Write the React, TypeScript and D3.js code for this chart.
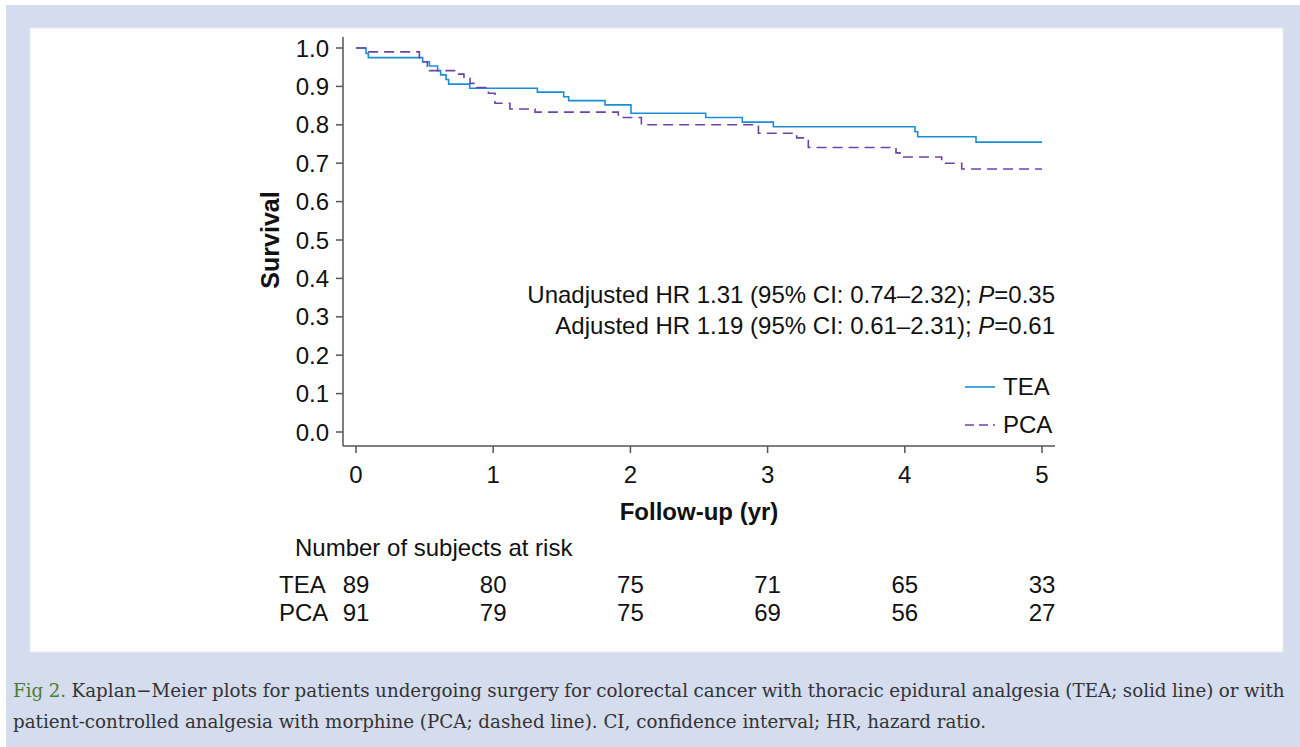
import React, { useLayoutEffect, useRef, useState } from "react";
import * as d3 from "d3";

// Kaplan-Meier step points: [years, survival]
const teaTimes = [0, 0.073, 0.09, 0.486, 0.535, 0.595, 0.617, 0.656, 0.675, 0.829, 1.322, 1.514, 1.55, 1.815, 2.004, 2.549, 2.816, 3.042, 4.074, 4.094, 4.519, 5.0];
const teaSurv = [1.0, 0.986, 0.975, 0.964, 0.953, 0.941, 0.93, 0.918, 0.906, 0.895, 0.885, 0.873, 0.863, 0.852, 0.83, 0.819, 0.807, 0.795, 0.782, 0.769, 0.755, 0.755];

const pcaTimes = [0, 0.073, 0.462, 0.486, 0.52, 0.535, 0.734, 0.787, 0.831, 0.88, 0.965, 1.013, 1.122, 1.305, 1.912, 2.08, 2.933, 3.212, 3.297, 3.936, 3.965, 4.269, 4.415, 5.0];
const pcaSurv = [1.0, 0.99, 0.975, 0.964, 0.953, 0.941, 0.932, 0.921, 0.908, 0.897, 0.882, 0.856, 0.841, 0.833, 0.819, 0.8, 0.778, 0.766, 0.741, 0.727, 0.716, 0.7, 0.685, 0.685];

const yTicks = [0, 0.1, 0.2, 0.3, 0.4, 0.5, 0.6, 0.7, 0.8, 0.9, 1.0];
const xTicks = [0, 1, 2, 3, 4, 5];

const riskGroups = ["TEA", "PCA"];
const teaRisk = [89, 80, 75, 71, 65, 33];
const pcaRisk = [91, 79, 75, 69, 56, 27];

const statLines = [
  { pre: "Unadjusted HR 1.31 (95% CI: 0.74\u20132.32); ", p: "0.35" },
  { pre: "Adjusted HR 1.19 (95% CI: 0.61\u20132.31); ", p: "0.61" },
];

const captionLine1 =
  " Kaplan\u2212Meier plots for patients undergoing surgery for colorectal cancer with thoracic epidural analgesia (TEA; solid line) or with";
const captionLine2 =
  "patient-controlled analgesia with morphine (PCA; dashed line). CI, confidence interval; HR, hazard ratio.";

const TEA_COLOR = "#1b8fd6";
const PCA_COLOR = "#6a45a6";
const AXIS = "#555";
const SANS = "'Liberation Sans', Arial, sans-serif";
const SERIF = "'DejaVu Serif', serif";
const FS = 24;
const CAP_BASE = 19;

export default function App() {
  const cap1 = useRef<SVGTextElement>(null);
  const cap2 = useRef<SVGTextElement>(null);
  const [capSize, setCapSize] = useState(CAP_BASE);
  const [wordSpacing, setWordSpacing] = useState(0);

  // size the caption so line 2 ends where it does in the figure; line 1 is justified
  useLayoutEffect(() => {
    if (!cap1.current || !cap2.current) return;
    const w1 = cap1.current.getComputedTextLength();
    const w2 = cap2.current.getComputedTextLength();
    const k = 974 / w2;
    const spaces = ("Fig 2." + captionLine1).split(" ").length - 1;
    setCapSize(CAP_BASE * k);
    setWordSpacing((1273 - w1 * k) / spaces);
  }, []);

  const x = d3.scaleLinear().domain([0, 5]).range([356, 1042]);
  const y = d3.scaleLinear().domain([0, 1]).range([432, 48]);

  const line = d3
    .line<[number, number]>()
    .x((d) => x(d[0]))
    .y((d) => y(d[1]))
    .curve(d3.curveStepAfter);

  const tea = teaTimes.map((t, i) => [t, teaSurv[i]] as [number, number]);
  const pca = pcaTimes.map((t, i) => [t, pcaSurv[i]] as [number, number]);

  const axisY = 446;
  const axisX = 343;

  return (
    <div style={{ position: "absolute", left: 0, top: 0 }}>
      <svg width={1300} height={747} style={{ display: "block" }}>
        <rect x={0} y={0} width={1300} height={747} fill="#fff" />
        <rect x={6} y={5} width={1294} height={742} fill="#d4dcee" />
        <rect x={30} y={28} width={1253} height={624} fill="#fff" stroke="#e4e9f4" />

        {/* curves */}
        <path d={line(tea) ?? ""} fill="none" stroke={TEA_COLOR} strokeWidth={1.6} />
        <path d={line(pca) ?? ""} fill="none" stroke={PCA_COLOR} strokeWidth={1.6} strokeDasharray="10,6" />

        {/* y axis */}
        <line x1={axisX} x2={axisX} y1={37} y2={axisY} stroke={AXIS} strokeWidth={1.5} />
        {yTicks.map((t) => (
          <g key={t}>
            <line x1={axisX - 7} x2={axisX} y1={y(t)} y2={y(t)} stroke={AXIS} strokeWidth={1.5} />
            <text x={329} y={y(t)} dy="0.36em" textAnchor="end" fontFamily={SANS} fontSize={FS} fill="#111">
              {t.toFixed(1)}
            </text>
          </g>
        ))}
        <text
          transform={`translate(279,240) rotate(-90)`}
          textAnchor="middle"
          fontFamily={SANS}
          fontSize={25}
          fontWeight="bold"
          fill="#111"
        >
          Survival
        </text>

        {/* x axis */}
        <line x1={axisX} x2={1055} y1={axisY} y2={axisY} stroke={AXIS} strokeWidth={1.5} />
        {xTicks.map((t) => (
          <g key={t}>
            <line x1={x(t)} x2={x(t)} y1={axisY} y2={axisY + 7} stroke={AXIS} strokeWidth={1.5} />
            <text x={x(t)} y={483} textAnchor="middle" fontFamily={SANS} fontSize={FS} fill="#111">
              {t}
            </text>
          </g>
        ))}
        <text x={699} y={520} textAnchor="middle" fontFamily={SANS} fontSize={FS} fontWeight="bold" fill="#111">
          Follow-up (yr)
        </text>

        {/* HR annotation */}
        {statLines.map((s, i) => (
          <text key={i} x={1055} y={303 + i * 31} textAnchor="end" fontFamily={SANS} fontSize={FS} fill="#111">
            {s.pre}
            <tspan fontStyle="italic">P</tspan>={s.p}
          </text>
        ))}

        {/* legend */}
        <line x1={965} x2={995} y1={387} y2={387} stroke={TEA_COLOR} strokeWidth={1.6} />
        <text x={1003} y={395} fontFamily={SANS} fontSize={FS} fill="#111">TEA</text>
        <line x1={965} x2={995} y1={425} y2={425} stroke={PCA_COLOR} strokeWidth={1.6} strokeDasharray="9,5" />
        <text x={1003} y={433} fontFamily={SANS} fontSize={FS} fill="#111">PCA</text>

        {/* number at risk */}
        <text x={295} y={556} fontFamily={SANS} fontSize={FS} fill="#111">Number of subjects at risk</text>
        {riskGroups.map((g, gi) => {
          const vals = gi === 0 ? teaRisk : pcaRisk;
          const yy = 593 + gi * 28;
          return (
            <g key={g}>
              <text x={279} y={yy} fontFamily={SANS} fontSize={FS} fill="#111">{g}</text>
              {vals.map((v, i) => (
                <text key={i} x={x(xTicks[i])} y={yy} textAnchor="middle" fontFamily={SANS} fontSize={FS} fill="#111">
                  {v}
                </text>
              ))}
            </g>
          );
        })}

        {/* caption */}
        <text
          ref={cap1}
          x={13}
          y={697}
          fontFamily={SERIF}
          fontSize={capSize}
          fill="#333"
          style={{ wordSpacing: `${wordSpacing}px`, whiteSpace: "pre" }}
        >
          <tspan fill="#4a7f2e">Fig 2.</tspan>
          {captionLine1}
        </text>
        <text ref={cap2} x={13} y={728} fontFamily={SERIF} fontSize={capSize} fill="#333">
          {captionLine2}
        </text>
      </svg>
    </div>
  );
}
